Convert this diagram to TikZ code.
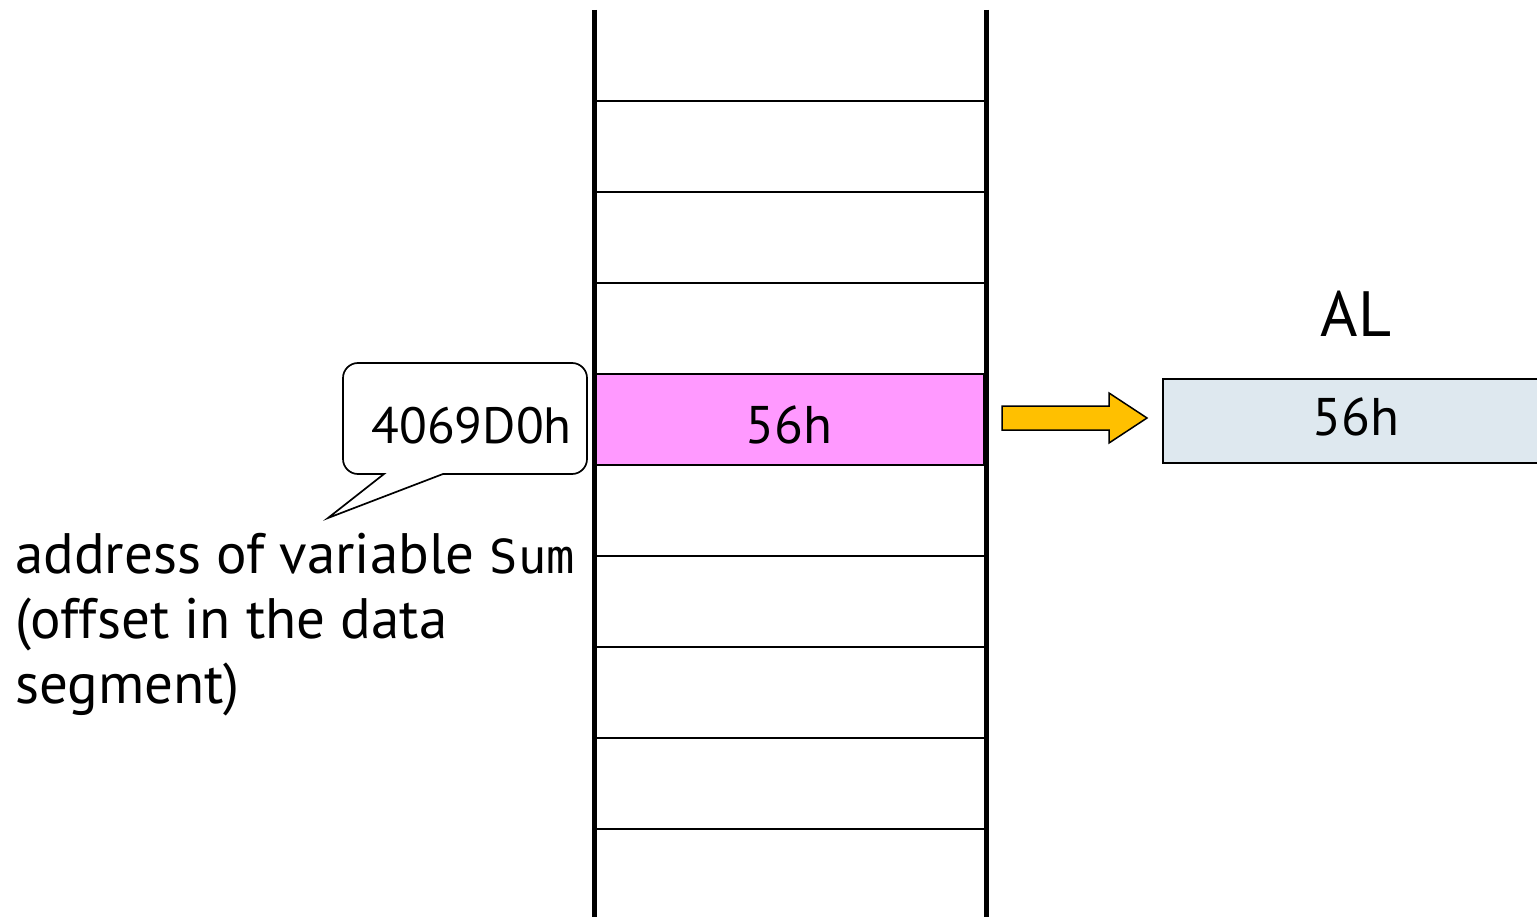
\documentclass[tikz,border=0pt]{standalone}
\usepackage{fontspec}
\setmainfont{PT Sans}
\setmonofont{DejaVu Sans Mono}
\definecolor{cellpink}{HTML}{FF99FF}
\definecolor{regblue}{HTML}{DEE8EF}
\definecolor{arrowgold}{HTML}{FFC000}
\begin{document}
\begin{tikzpicture}[x=1pt,y=-1pt,
  rail/.style={line width=5pt},
  divider/.style={line width=2pt},
  val/.style={font=\fontsize{53}{65}\selectfont, inner sep=0pt},
  note/.style={font=\fontsize{57}{65}\selectfont, inner sep=0pt, anchor=base west},
  cell/.style={minimum width=388pt, minimum height=91pt, inner sep=0pt}]
\useasboundingbox (0,0) rectangle (1537,917);

% highlighted memory cell
\node[cell, fill=cellpink, draw, line width=2pt] (sum) at (790,419.5) {};
\node[val, anchor=base] (sumval) at (789,443) {56h};

% cell dividers
\foreach \y in {101,192,283,556,647,738,829}
  \draw[divider] (595,\y) -- (985,\y);

% memory rails
\draw[rail] (594,10) coordinate (lt) -- (594,917) coordinate (lb);
\draw[rail] (986,10) coordinate (rt) -- (986,917) coordinate (rb);

% address callout
\draw[line width=1.7pt, fill=white]
  (328,518) coordinate (tip) -- (384,474)
  [rounded corners=15pt] -- (343,474) -- (343,363) -- (587,363) -- (587,474)
  [sharp corners] -- (443,474) -- cycle;
\node[val, font=\fontsize{51}{65}\selectfont, anchor=base east] (addr) at (572,443) {4069D0h};

% explanation text
\node[note] (expl1) at (15,573) {address of variable {\ttfamily\fontsize{47}{65}\selectfont Sum}};
\node[note] (expl2) at (15,638) {(offset in the data};
\node[note] (expl3) at (15,703) {segment)};

% register AL
\node[minimum width=390pt, minimum height=84pt, inner sep=0pt, anchor=north west,
  fill=regblue, draw, line width=1.5pt] (al) at (1162,378) {};
\node[val, anchor=base] (alval) at (1356,435) {56h};
\node[font=\fontsize{64}{70}\selectfont, inner sep=0pt, anchor=base] (alname) at (1356,337) {AL};

% transfer arrow
\draw[fill=arrowgold, line width=1.5pt]
  (1002,406) -- (1109,406) -- (1109,393) -- (1147,418) -- (1109,443)
  -- (1109,430) -- (1002,430) -- cycle;
\end{tikzpicture}
\end{document}
